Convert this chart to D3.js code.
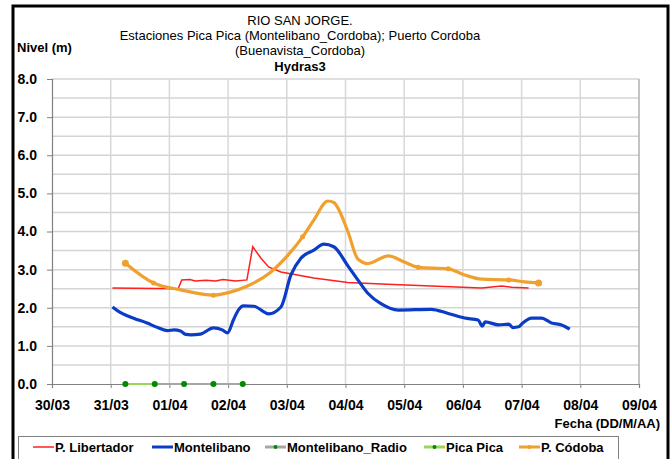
<!DOCTYPE html>
<html>
<head>
<meta charset="utf-8">
<script src="https://cdn.jsdelivr.net/npm/d3@7"></script>
<style>
  body { margin: 0; background: #fff; }
  text { font-family: "Liberation Sans", Arial, sans-serif; }
</style>
</head>
<body>
<div id="chart"></div>
<script>
// x values are days counted from 30/03 00:00
var xTickLabels = ["30/03", "31/03", "01/04", "02/04", "03/04", "04/04", "05/04", "06/04", "07/04", "08/04", "09/04"];
var yTicks = [0, 1, 2, 3, 4, 5, 6, 7, 8];

var libertadorDays   = [1.03, 2.15, 2.21, 2.35, 2.44, 2.62, 2.79, 2.91, 3.13, 3.32, 3.42, 3.56, 3.69, 3.90, 4.46, 5.04, 5.61, 6.46, 7.32, 7.66, 7.83, 8.12];
var libertadorLevels = [2.52, 2.50, 2.73, 2.74, 2.70, 2.72, 2.70, 2.74, 2.70, 2.73, 3.60, 3.30, 3.07, 2.94, 2.78, 2.66, 2.62, 2.57, 2.52, 2.57, 2.54, 2.52];

var montelibanoDays   = [1.03, 1.12, 1.21, 1.40, 1.62, 1.80, 1.97, 2.08, 2.19, 2.28, 2.36, 2.53, 2.75, 2.90, 2.99, 3.09, 3.18, 3.26, 3.44, 3.69, 3.90, 4.07, 4.24, 4.46, 4.63, 4.80, 5.04, 5.21, 5.38, 5.61, 5.90, 6.46, 6.75, 7.03, 7.26, 7.33, 7.38, 7.61, 7.78, 7.85, 7.95, 8.02, 8.17, 8.34, 8.51, 8.68, 8.82];
var montelibanoLevels = [2.02, 1.92, 1.84, 1.72, 1.60, 1.48, 1.40, 1.42, 1.39, 1.30, 1.29, 1.31, 1.47, 1.42, 1.34, 1.68, 1.95, 2.05, 2.04, 1.84, 2.02, 2.86, 3.30, 3.51, 3.67, 3.60, 3.10, 2.73, 2.38, 2.10, 1.94, 1.96, 1.85, 1.73, 1.68, 1.52, 1.63, 1.55, 1.57, 1.48, 1.50, 1.60, 1.73, 1.73, 1.60, 1.55, 1.44];

var radioDays   = [1.75, 2.25, 2.75, 3.25];
var radioLevels = [0, 0, 0, 0];

var picaDays   = [1.25, 1.75];
var picaLevels = [0, 0];

var cordobaDays   = [1.25, 1.73, 2.19, 2.75, 3.04, 3.33, 3.73, 4.02, 4.27, 4.46, 4.70, 4.80, 5.04, 5.21, 5.38, 5.73, 6.00, 6.24, 6.75, 7.03, 7.32, 7.78, 8.05, 8.29];
var cordobaLevels = [3.17, 2.65, 2.47, 2.33, 2.41, 2.57, 2.94, 3.38, 3.86, 4.30, 4.80, 4.76, 4.00, 3.28, 3.16, 3.36, 3.20, 3.06, 3.02, 2.86, 2.75, 2.73, 2.68, 2.65];
var cordobaMarked = [0, 1, 3, 8, 17, 18, 21, 23];

var width = 671, height = 459;
var plot = {left: 52, right: 639, top: 79, bottom: 384};

var svg = d3.select("#chart").append("svg")
    .attr("width", width)
    .attr("height", height);

svg.append("rect").attr("width", width).attr("height", height).attr("fill", "#fff");

// outer frame
svg.append("rect")
    .attr("x", 13).attr("y", 6)
    .attr("width", 655).attr("height", 470)
    .attr("fill", "none").attr("stroke", "#000").attr("stroke-width", 3);

var x = d3.scaleLinear().domain([0, 10]).range([plot.left, plot.right]);
var y = d3.scaleLinear().domain([0, 8]).range([plot.bottom, plot.top]);

// grid
var grid = svg.append("g");
grid.selectAll(".hg")
    .data(d3.range(0.5, 8.01, 0.5))
    .enter().append("line")
    .attr("x1", plot.left).attr("x2", plot.right)
    .attr("y1", function(d) { return y(d); })
    .attr("y2", function(d) { return y(d); })
    .attr("stroke", "#d4d4d4").attr("stroke-width", 1.5);
grid.selectAll(".vg")
    .data(d3.range(1, 11))
    .enter().append("line")
    .attr("y1", plot.top).attr("y2", plot.bottom)
    .attr("x1", function(d) { return x(d); })
    .attr("x2", function(d) { return x(d); })
    .attr("stroke", function(d) { return d === 10 ? "#b0b0b0" : "#d8d8d8"; })
    .attr("stroke-width", 1.5);

// axes
var yAxis = d3.axisLeft(y).tickValues(yTicks).tickSize(5).tickPadding(10)
    .tickFormat(d3.format(".1f"));
var yG = svg.append("g")
    .attr("transform", "translate(" + plot.left + ",0)")
    .call(yAxis);
var xAxis = d3.axisBottom(x).ticks(10).tickSize(4).tickPadding(12)
    .tickFormat(function(d) { return xTickLabels[d]; });
var xG = svg.append("g")
    .attr("transform", "translate(0," + plot.bottom + ")")
    .call(xAxis);

[xG, yG].forEach(function(g) {
  g.select(".domain").attr("stroke", "#808080").attr("stroke-width", 1.2);
  g.selectAll(".tick line").attr("stroke", "#808080");
  g.selectAll(".tick text")
      .attr("fill", "#000")
      .style("font-size", "14px")
      .style("font-weight", "bold")
      .style("font-family", "'Liberation Sans', Arial, sans-serif");
});

// series
function pts(days, levels) {
  return days.map(function(d, i) { return [d, levels[i]]; });
}
var line = d3.line()
    .x(function(d) { return x(d[0]); })
    .y(function(d) { return y(d[1]); });
var smooth = d3.line()
    .curve(d3.curveMonotoneX)
    .x(function(d) { return x(d[0]); })
    .y(function(d) { return y(d[1]); });

svg.append("path")
    .datum(pts(libertadorDays, libertadorLevels))
    .attr("d", line)
    .attr("fill", "none").attr("stroke", "#ff1f1f").attr("stroke-width", 1.5);

svg.append("path")
    .datum(pts(radioDays, radioLevels))
    .attr("d", line)
    .attr("fill", "none").attr("stroke", "#a6a6a6").attr("stroke-width", 2);

svg.append("path")
    .datum(pts(picaDays, picaLevels))
    .attr("d", line)
    .attr("fill", "none").attr("stroke", "#99d65c").attr("stroke-width", 2);

svg.selectAll(".dot")
    .data(pts(picaDays.concat(radioDays.slice(1)), picaLevels.concat(radioLevels.slice(1))))
    .enter().append("circle")
    .attr("cx", function(d) { return x(d[0]); })
    .attr("cy", function(d) { return y(d[1]); })
    .attr("r", 3)
    .attr("fill", "#008a00");

svg.append("path")
    .datum(pts(cordobaDays, cordobaLevels))
    .attr("d", smooth)
    .attr("fill", "none").attr("stroke", "#f0a02c").attr("stroke-width", 3.2)
    .attr("stroke-linejoin", "round");

svg.selectAll(".cmark")
    .data(cordobaMarked)
    .enter().append("circle")
    .attr("cx", function(i) { return x(cordobaDays[i]); })
    .attr("cy", function(i) { return y(cordobaLevels[i]); })
    .attr("r", function(i, k) { return (k === 0 || i === cordobaDays.length - 1) ? 3.5 : 2.5; })
    .attr("fill", "#f0a02c");

svg.append("path")
    .datum(pts(montelibanoDays, montelibanoLevels))
    .attr("d", smooth)
    .attr("fill", "none").attr("stroke", "#0a3cc8").attr("stroke-width", 3.2)
    .attr("stroke-linejoin", "round");

// titles
var titles = [
  {t: "RIO SAN JORGE.", y: 25, w: "normal"},
  {t: "Estaciones Pica Pica (Montelibano_Cordoba); Puerto Cordoba", y: 40, w: "normal"},
  {t: "(Buenavista_Cordoba)", y: 55, w: "normal"},
  {t: "Hydras3", y: 71, w: "bold"}
];
svg.selectAll(".title")
    .data(titles)
    .enter().append("text")
    .attr("x", 300).attr("y", function(d) { return d.y; })
    .attr("text-anchor", "middle")
    .style("font-size", "13px")
    .style("font-weight", function(d) { return d.w; })
    .text(function(d) { return d.t; });

svg.append("text")
    .attr("x", 17).attr("y", 52)
    .style("font-size", "13px").style("font-weight", "bold")
    .text("Nivel (m)");

svg.append("text")
    .attr("x", 660).attr("y", 428)
    .attr("text-anchor", "end")
    .style("font-size", "13px").style("font-weight", "bold")
    .text("Fecha (DD/M/AA)");

// legend
svg.append("rect")
    .attr("x", 18.5).attr("y", 436.5)
    .attr("width", 600).attr("height", 30)
    .attr("fill", "#fff").attr("stroke", "#808080");

var legendItems = [
  {name: "P. Libertador", color: "#ff1f1f", x: 33, w: 1.5, dot: null},
  {name: "Montelibano", color: "#0a3cc8", x: 152, w: 3, dot: null},
  {name: "Montelibano_Radio", color: "#a6a6a6", x: 265, w: 3, dot: "#008a00"},
  {name: "Pica Pica", color: "#99d65c", x: 424, w: 3, dot: "#008a00"},
  {name: "P. Códoba", color: "#f0a02c", x: 519, w: 3, dot: "#f0a02c"}
];
var lg = svg.selectAll(".lg")
    .data(legendItems)
    .enter().append("g")
    .attr("transform", function(d) { return "translate(" + d.x + ",447)"; });
lg.append("line")
    .attr("x1", 0).attr("x2", 21)
    .attr("stroke", function(d) { return d.color; })
    .attr("stroke-width", function(d) { return d.w; });
lg.filter(function(d) { return d.dot; }).append("circle")
    .attr("cx", 10.5).attr("r", 2)
    .attr("fill", function(d) { return d.dot; });
lg.append("text")
    .attr("x", 22).attr("y", 5)
    .style("font-size", "13px").style("font-weight", "bold")
    .text(function(d) { return d.name; });
</script>
</body>
</html>
